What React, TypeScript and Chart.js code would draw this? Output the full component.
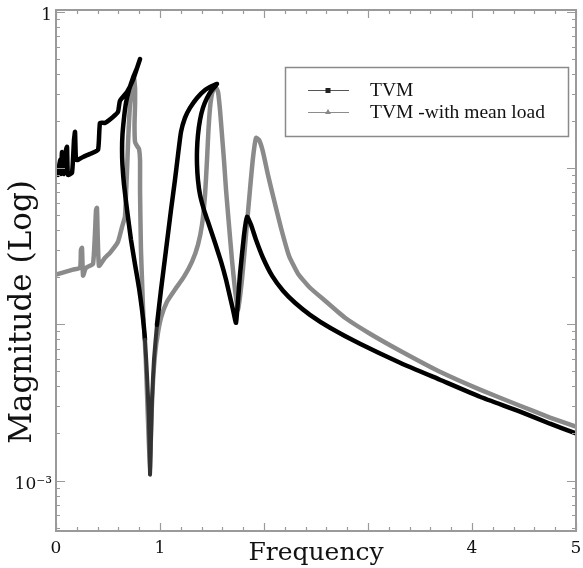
import React, { useEffect, useRef } from 'react';
import { Chart, registerables } from 'chart.js';

Chart.register(...registerables);

// ---- data ----
const seriesNames = ['TVM', 'TVM -with mean load'];

const tvmX = [
  0, 0.010, 0.019, 0.038, 0.048, 0.058, 0.077, 0.096, 0.106, 0.115, 0.154, 0.173, 0.183, 0.192, 0.212, 0.260, 0.327, 0.404, 0.423, 0.471, 0.548, 0.596, 0.615, 0.683, 0.740, 0.808,
  0.779, 0.740, 0.702, 0.673, 0.654, 0.639, 0.635, 0.639, 0.654, 0.683, 0.721, 0.760, 0.798, 0.827, 0.856, 0.875, 0.894, 0.904,
  0.913, 0.923, 0.942, 0.971, 1.010, 1.058, 1.106, 1.144, 1.173, 1.202, 1.240, 1.288, 1.356, 1.433, 1.500, 1.548,
  1.500, 1.452, 1.413, 1.385, 1.365, 1.356, 1.356, 1.365, 1.385, 1.423, 1.471, 1.529, 1.587, 1.635, 1.673, 1.702, 1.731,
  1.769, 1.808, 1.837,
  1.875, 1.923, 1.990, 2.077, 2.183, 2.298, 2.442, 2.635, 2.923, 3.308, 3.692, 4.077, 4.462, 4.750, 5.0,
];
const tvmY = [
  0.0919, 0.1005, 0.0906, 0.113, 0.0919, 0.1271, 0.0919, 0.1309, 0.1369, 0.0906, 0.0933, 0.1518, 0.1707, 0.113, 0.113, 0.1181, 0.1234, 0.1309, 0.1949, 0.1949, 0.2129, 0.2291, 0.2695, 0.3077, 0.3672, 0.5003,
  0.4382, 0.3782, 0.317, 0.2617, 0.2099, 0.1633, 0.1309, 0.105, 0.0782, 0.0541, 0.0348, 0.0241, 0.01715, 0.0124, 0.00797, 0.00476, 0.00245, 0.00109,
  0.00183, 0.00329, 0.00594, 0.00994, 0.0167, 0.030, 0.0541, 0.0841, 0.1216, 0.1707, 0.2099, 0.2431, 0.2817, 0.317, 0.336, 0.3462,
  0.317, 0.2817, 0.2431, 0.2037, 0.1633, 0.1309, 0.105, 0.0841, 0.0675, 0.0541, 0.0434, 0.0333, 0.0252, 0.0193, 0.015, 0.0124, 0.01024,
  0.0208, 0.0374, 0.0488,
  0.0434, 0.0348, 0.0267, 0.0205, 0.0164, 0.01374, 0.01151, 0.00951, 0.00751, 0.00568, 0.00442, 0.00344, 0.00276, 0.00231, 0.0020,
];

const meanX = [
  0, 0.163, 0.231, 0.240, 0.250, 0.260, 0.288, 0.356, 0.385, 0.394, 0.413, 0.471, 0.519, 0.596, 0.635, 0.663,
  0.673, 0.683, 0.692, 0.702, 0.712, 0.731, 0.750,
  0.760, 0.760, 0.755, 0.760, 0.779, 0.798, 0.808, 0.808, 0.812, 0.817, 0.827, 0.841, 0.861, 0.875, 0.889, 0.904,
  0.913, 0.923, 0.942, 0.971, 1.010, 1.067, 1.144, 1.231, 1.308, 1.365, 1.404, 1.433, 1.452, 1.466, 1.481, 1.500, 1.529,
  1.558, 1.577, 1.596, 1.615, 1.635, 1.663, 1.692, 1.721, 1.750,
  1.788, 1.827, 1.865, 1.894, 1.923,
  1.952, 1.990, 2.038, 2.096, 2.163, 2.240, 2.327, 2.442, 2.587, 2.779, 3.019, 3.308, 3.692, 4.077, 4.462, 4.750, 5.0,
];
const meanY = [
  0.0208, 0.0224, 0.0230, 0.0300, 0.0309, 0.0205, 0.0230, 0.0244, 0.0541, 0.0557, 0.0237, 0.0267, 0.0287, 0.0338, 0.0421, 0.0488,
  0.0675, 0.0975, 0.141, 0.1978, 0.2541, 0.317, 0.3782,
  0.3264, 0.2541, 0.1892, 0.1473, 0.1389, 0.1329, 0.113, 0.0726, 0.0467, 0.030, 0.0193, 0.0107, 0.00594, 0.00329, 0.00183, 0.00117,
  0.0017, 0.00284, 0.00512, 0.00797, 0.01102, 0.01395, 0.0167, 0.0202, 0.0252, 0.0323, 0.0434, 0.0675, 0.113, 0.1758, 0.2431, 0.2988, 0.336,
  0.3077, 0.236, 0.1633, 0.113, 0.0726, 0.0434, 0.0259, 0.0167, 0.0124,
  0.0193, 0.0374, 0.0726, 0.1164, 0.1563,
  0.1518, 0.1271, 0.0906, 0.0627, 0.0415, 0.0275, 0.0211, 0.01715, 0.01416, 0.01102, 0.00871, 0.00678, 0.00497, 0.00382, 0.00301, 0.00253, 0.00221,
];

const xMin = 0;
const xMax = 5;
const xTickLabels = ['0', '1', '', '', '4', '5'];
const yMin = 0.000475;
const yMax = 1.03;
const yTickValues = [0.001, 1];
const yTickLabels = ['10\u207B\u00B3', '1'];
const xTitle = 'Frequency';
const yTitle = 'Magnitude (Log)';

const serif = '"DejaVu Serif", "Liberation Serif", serif';
const legendFont = '"Liberation Serif", "Times New Roman", serif';

const framePlugin = {
  id: 'frameTicks',
  afterDatasetsDraw(chart: any) {
    const { ctx, chartArea: a, scales } = chart;
    const x = scales.x;
    const y = scales.y;
    ctx.save();
    ctx.strokeStyle = '#9a9a9a';
    ctx.lineWidth = 1.2;
    ctx.beginPath();
    for (let i = 0; i <= 25; i++) {
      const v = i * 0.2;
      const px = Math.round(x.getPixelForValue(v)) + 0.5;
      const len = i % 5 === 0 ? 8 : 4;
      ctx.moveTo(px, a.bottom);
      ctx.lineTo(px, a.bottom - len);
      ctx.moveTo(px, a.top);
      ctx.lineTo(px, a.top + len);
    }
    for (let d = -4; d <= 0; d++) {
      for (let m = 1; m <= 9; m++) {
        const v = m * Math.pow(10, d);
        if (v < y.min || v > y.max) continue;
        const py = Math.round(y.getPixelForValue(v)) + 0.5;
        const len = m === 1 ? 9 : 4;
        ctx.moveTo(a.left, py);
        ctx.lineTo(a.left + len, py);
        ctx.moveTo(a.right, py);
        ctx.lineTo(a.right - len, py);
      }
    }
    ctx.stroke();
    ctx.lineWidth = 2;
    ctx.strokeRect(a.left, a.top, a.right - a.left, a.bottom - a.top);
    ctx.restore();
  },
};

const yTitlePlugin = {
  id: 'yTitle',
  afterDraw(chart: any) {
    const { ctx, chartArea: a } = chart;
    ctx.save();
    ctx.translate(a.left - 33, a.top + 302);
    ctx.rotate(-Math.PI / 2);
    ctx.fillStyle = '#111';
    ctx.font = '31px ' + serif;
    ctx.textAlign = 'center';
    ctx.textBaseline = 'middle';
    ctx.fillText(yTitle, 0, 0);
    ctx.restore();
  },
};

const legendPlugin = {
  id: 'boxLegend',
  afterDraw(chart: any) {
    const { ctx, chartArea: a } = chart;
    const left = a.right - 291;
    const top = a.top + 57;
    const w = 283;
    const h = 69;
    ctx.save();
    ctx.fillStyle = '#ffffff';
    ctx.fillRect(left, top, w, h);
    ctx.strokeStyle = '#8a8a8a';
    ctx.lineWidth = 1.5;
    ctx.strokeRect(left + 0.5, top + 0.5, w, h);
    const rows = [top + 23, top + 45];
    const colors = ['#555555', '#8c8c8c'];
    rows.forEach((ry, i) => {
      ctx.strokeStyle = colors[i];
      ctx.lineWidth = 1;
      ctx.beginPath();
      ctx.moveTo(left + 23, ry + 0.5);
      ctx.lineTo(left + 64, ry + 0.5);
      ctx.stroke();
      ctx.fillStyle = i === 0 ? '#222222' : '#888888';
      const cx = left + 43;
      if (i === 0) {
        ctx.fillRect(cx - 2.5, ry - 2, 5, 5);
      } else {
        ctx.beginPath();
        ctx.moveTo(cx, ry - 3);
        ctx.lineTo(cx + 3, ry + 2);
        ctx.lineTo(cx - 3, ry + 2);
        ctx.closePath();
        ctx.fill();
      }
      ctx.fillStyle = '#111111';
      ctx.font = '19.5px ' + legendFont;
      ctx.textBaseline = 'middle';
      ctx.textAlign = 'left';
      ctx.fillText(seriesNames[i], left + 85, ry + 1);
    });
    ctx.restore();
  },
};

function toPoints(xs: number[], ys: number[]) {
  return xs.map((v, i) => ({ x: v, y: ys[i] }));
}

// slightly thinner, greyer trace near the deep anti-resonance
function isDip(ctx: any) {
  const a = ctx.p0.parsed;
  const b = ctx.p1.parsed;
  return a.y < 0.012 && b.y < 0.012 && a.x > 0.78 && a.x < 1.0 && b.x > 0.78 && b.x < 1.0;
}

export default function App() {
  const ref = useRef<HTMLCanvasElement | null>(null);
  useEffect(() => {
    if (!ref.current) return;
    const chart = new Chart(ref.current, {
      type: 'scatter',
      data: {
        datasets: [
          {
            label: seriesNames[0],
            data: toPoints(tvmX, tvmY),
            showLine: true,
            borderColor: '#000000',
            backgroundColor: '#000000',
            borderWidth: 4.5,
            pointRadius: 0,
            tension: 0.15,
            borderJoinStyle: 'round',
            borderCapStyle: 'round',
            segment: {
              borderWidth: (c: any) => (isDip(c) ? 4 : undefined),
              borderColor: (c: any) => (isDip(c) ? '#333333' : undefined),
            },
          },
          {
            label: seriesNames[1],
            data: toPoints(meanX, meanY),
            showLine: true,
            borderColor: '#8a8a8a',
            backgroundColor: '#8a8a8a',
            borderWidth: 4.5,
            pointRadius: 0,
            tension: 0.15,
            borderJoinStyle: 'round',
            borderCapStyle: 'round',
            segment: {
              borderWidth: (c: any) => (isDip(c) ? 4 : undefined),
            },
          },
        ],
      },
      options: {
        animation: false,
        responsive: false,
        maintainAspectRatio: false,
        layout: { padding: { top: 10, right: 7, left: 0, bottom: 0 } },
        plugins: {
          legend: { display: false },
          tooltip: { enabled: false },
        },
        scales: {
          x: {
            type: 'linear',
            min: xMin,
            max: xMax,
            afterFit: (s: any) => {
              s.height = 37;
              s.paddingLeft = 0;
              s.paddingRight = 0;
            },
            afterBuildTicks: (s: any) => {
              s.ticks = xTickLabels.map((_, i) => ({ value: i }));
            },
            ticks: {
              autoSkip: false,
              maxRotation: 0,
              padding: 7,
              color: '#111',
              font: { family: serif, size: 17 },
              callback: (_v: any, i: number) => xTickLabels[i],
            },
            grid: { display: false, drawTicks: false },
            border: { display: false },
            title: {
              display: true,
              text: xTitle,
              color: '#111',
              font: { family: serif, size: 25 },
              padding: { top: 0, bottom: 0 },
            },
          },
          y: {
            type: 'logarithmic',
            min: yMin,
            max: yMax,
            afterFit: (s: any) => {
              s.width = 56;
              s.paddingTop = 0;
              s.paddingBottom = 0;
            },
            afterBuildTicks: (s: any) => {
              s.ticks = yTickValues.map((v) => ({ value: v }));
            },
            ticks: {
              autoSkip: false,
              padding: 4,
              labelOffset: 4,
              color: '#111',
              font: { family: serif, size: 17 },
              callback: (v: any) => {
                const i = yTickValues.indexOf(Number(v));
                return i >= 0 ? yTickLabels[i] : '';
              },
            },
            grid: { display: false, drawTicks: false },
            border: { display: false },
            title: { display: false },
          },
        },
      },
      plugins: [framePlugin, legendPlugin, yTitlePlugin],
    } as any);
    return () => chart.destroy();
  }, []);

  return (
    <div style={{ position: 'fixed', left: 0, top: 0, width: 583, height: 568, background: '#fff' }}>
      <canvas ref={ref} width={583} height={568} style={{ display: 'block', width: 583, height: 568 }} />
    </div>
  );
}
